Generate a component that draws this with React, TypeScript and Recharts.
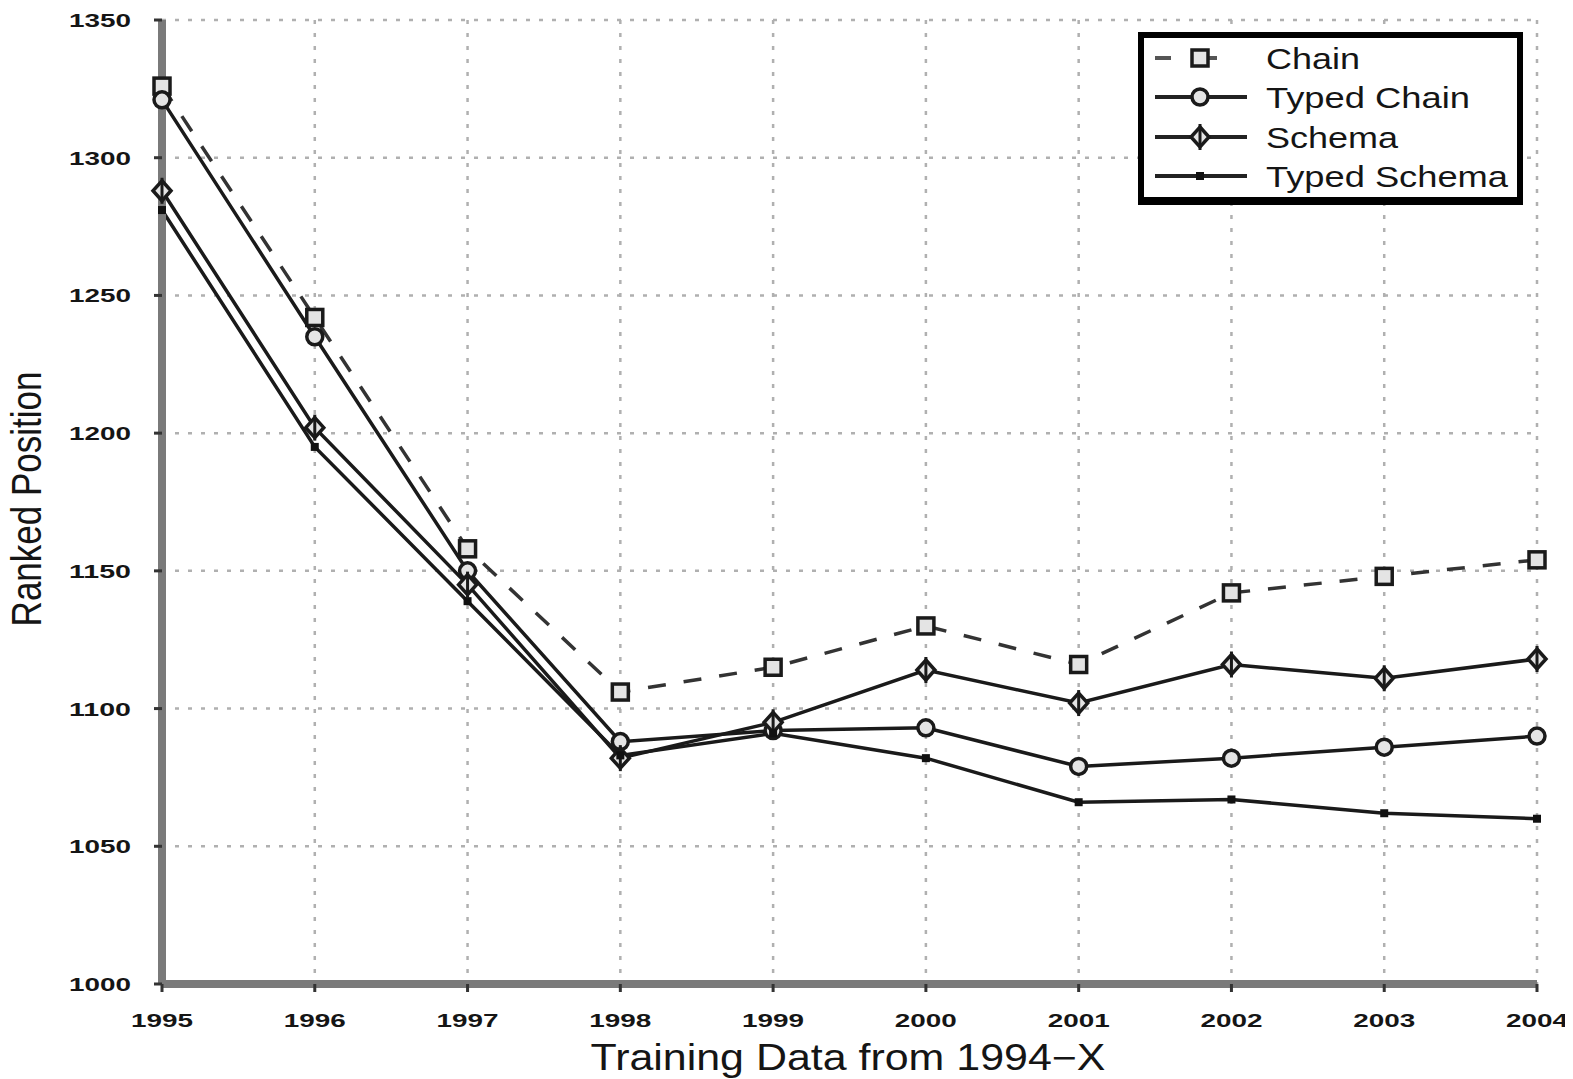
import React from 'react';
import { LineChart, Line, XAxis, YAxis, CartesianGrid } from 'recharts';

const years = [1995, 1996, 1997, 1998, 1999, 2000, 2001, 2002, 2003, 2004];
const chain = [1326, 1242, 1158, 1106, 1115, 1130, 1116, 1142, 1148, 1154];
const typedChain = [1321, 1235, 1150, 1088, 1092, 1093, 1079, 1082, 1086, 1090];
const schema = [1288, 1202, 1145, 1082, 1095, 1114, 1102, 1116, 1111, 1118];
const typedSchema = [1281, 1195, 1139, 1083, 1091, 1082, 1066, 1067, 1062, 1060];
const yTicks = [1000, 1050, 1100, 1150, 1200, 1250, 1300, 1350];
const seriesNames = ['Chain', 'Typed Chain', 'Schema', 'Typed Schema'];

const data = years.map((year, i) => ({
  year,
  chain: chain[i],
  typedChain: typedChain[i],
  schema: schema[i],
  typedSchema: typedSchema[i],
}));

const FONT = 'Arial, "Liberation Sans", sans-serif';
const INK = '#151515';

const SquareMark = ({ cx, cy }: any) => (
  <rect x={cx - 8} y={cy - 8} width={16} height={16} fill="#e4e4e4" stroke="#1a1a1a" strokeWidth={3.5} />
);
const CircleMark = ({ cx, cy }: any) => (
  <circle cx={cx} cy={cy} r={8} fill="#e4e4e4" stroke="#1a1a1a" strokeWidth={3.5} />
);
const DiamondMark = ({ cx, cy }: any) => (
  <g>
    <path d={`M${cx},${cy - 10} L${cx + 9},${cy} L${cx},${cy + 10} L${cx - 9},${cy} Z`} fill="#e4e4e4" stroke="#1a1a1a" strokeWidth={3.5} />
    <line x1={cx} y1={cy - 13} x2={cx} y2={cy + 13} stroke="#1a1a1a" strokeWidth={3} />
  </g>
);
const SmallMark = ({ cx, cy }: any) => (
  <rect x={cx - 4} y={cy - 4} width={8} height={8} fill="#111" />
);

const markers = [SquareMark, CircleMark, DiamondMark, SmallMark];
const legendWidths = [94, 204, 132, 242];

const dotFn = (Comp: any) => (props: any) => <Comp key={`d-${props.index}`} cx={props.cx} cy={props.cy} />;

const YTick = ({ x, y, payload }: any) => (
  <text x={x - 52} y={y + 7} textAnchor="middle" fontFamily={FONT} fontSize={19} fontWeight="bold" fill={INK}
    textLength={62} lengthAdjust="spacingAndGlyphs">{payload.value}</text>
);
const XTick = ({ x, y, payload }: any) => (
  <text x={x} y={y + 33} textAnchor="middle" fontFamily={FONT} fontSize={19} fontWeight="bold" fill={INK}
    textLength={62} lengthAdjust="spacingAndGlyphs">{payload.value}</text>
);

const LegendBox = () => {
  const rows = [26, 65, 105, 144];
  return (
    <g transform="translate(1130,24)">
      <rect x={3} y={3} width={379} height={167} fill="#fff" stroke="#000" strokeWidth={6} />
      <rect x={3} y={165} width={382} height={8} fill="#000" />
      {seriesNames.map((name, i) => {
        const M = markers[i];
        return (
          <g key={name}>
            <line x1={17} y1={rows[i]} x2={109} y2={rows[i]} stroke={i === 0 ? '#555' : '#222'}
              strokeWidth={4} strokeDasharray={i === 0 ? '16 30' : undefined} />
            <M cx={62} cy={rows[i]} />
            <text x={128} y={rows[i] + 11} fontFamily={FONT} fontSize={29} fill={INK}
              textLength={legendWidths[i]} lengthAdjust="spacingAndGlyphs">{name}</text>
          </g>
        );
      })}
    </g>
  );
};

export default function App() {
  return (
    <div style={{ position: 'relative', width: 1565, height: 1071 }}>
      <LineChart width={1565} height={1071} data={data} margin={{ top: 12, right: 36, left: 0, bottom: 0 }}>
        <CartesianGrid stroke="#b0b0b0" strokeWidth={2.5} strokeDasharray="4 9" />
        <XAxis dataKey="year" type="number" domain={[1995, 2004]} ticks={years} height={95}
          axisLine={{ stroke: '#7a7a7a', strokeWidth: 8 }} tickLine={{ stroke: '#333', strokeWidth: 3 }}
          tickSize={8} tick={<XTick />} interval={0} allowDecimals={false} />
        <YAxis type="number" domain={[1000, 1350]} ticks={yTicks} width={154}
          axisLine={{ stroke: '#7a7a7a', strokeWidth: 8 }} tickLine={{ stroke: '#333', strokeWidth: 3 }}
          tickSize={8} tick={<YTick />} interval={0} />
        <Line dataKey="chain" name={seriesNames[0]} stroke="#333" strokeWidth={3.5} strokeDasharray="18 18"
          dot={dotFn(SquareMark)} isAnimationActive={false} />
        <Line dataKey="typedChain" name={seriesNames[1]} stroke="#1a1a1a" strokeWidth={3.5}
          dot={dotFn(CircleMark)} isAnimationActive={false} />
        <Line dataKey="schema" name={seriesNames[2]} stroke="#1a1a1a" strokeWidth={3.5}
          dot={dotFn(DiamondMark)} isAnimationActive={false} />
        <Line dataKey="typedSchema" name={seriesNames[3]} stroke="#1a1a1a" strokeWidth={3.5}
          dot={dotFn(SmallMark)} isAnimationActive={false} />
      </LineChart>
      <svg width={1565} height={1071} style={{ position: 'absolute', left: 0, top: 0, pointerEvents: 'none', overflow: 'visible' }}>
        <LegendBox />
        <text transform="translate(33,491) rotate(-90) scale(1,1.24)" textAnchor="middle" fontFamily={FONT}
          fontSize={35} fill={INK}>Ranked Position</text>
        <text x={840} y={1062} textAnchor="middle" fontFamily={FONT} fontSize={36} fill={INK}
          textLength={515} lengthAdjust="spacingAndGlyphs">Training Data from 1994−X</text>
      </svg>
    </div>
  );
}
